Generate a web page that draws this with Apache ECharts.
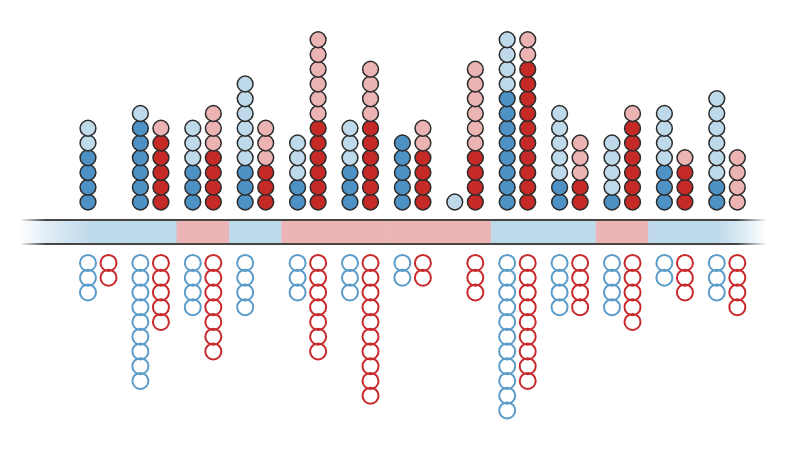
<!DOCTYPE html>
<html><head><meta charset="utf-8">
<script src="https://cdn.jsdelivr.net/npm/echarts@6/dist/echarts.min.js"></script>
<style>html,body{margin:0;padding:0;background:#fff}#c{width:800px;height:450px}</style>
</head><body><div id="c"></div>
<script>
// 13 groups, each with a blue stack and a red stack above the band and hollow stacks below
const groups = ['1','2','3','4','5','6','7','8','9','10','11','12','13'];
const blueStrong = [4,6,3,3,2,3,5,0,8,2,1,3,2];
const blueLean   = [2,1,3,6,3,3,0,1,4,5,4,4,6];
const redStrong  = [0,5,4,3,6,6,4,4,10,2,6,3,0];
const redLean    = [0,1,3,3,6,4,2,6,2,3,1,1,4];
const blueHollow = [3,9,4,4,3,3,2,0,11,4,4,2,3];
const redHollow  = [2,5,7,0,7,10,2,3,9,4,5,3,4];
const bandParty  = ['D','D','R','D','R','R','R','R','D','D','R','D','D'];

const C = {
  blueDark:'#4d91c5', blueLight:'#bdd9ea', redDark:'#c62a27', redLight:'#ecb3b3',
  bandBlue:'#bed9ea', bandRed:'#ecb5b5', hollowBlue:'#5b9bc9', hollowRed:'#c8292b', edge:'#2b2b2b'
};
const OFF = 0.196, UP0 = 2.034, DN0 = 2.10, BAND = 0.81;

function stackPoints(counts, startCounts, side, dir) {
  const pts = [];
  counts.forEach((n, g) => {
    const s = startCounts ? startCounts[g] : 0;
    for (let k = 0; k < n; k++) {
      const lvl = s + k;
      pts.push([g + side * OFF, dir > 0 ? UP0 + lvl : -(DN0 + lvl)]);
    }
  });
  return pts;
}

function filled(name, data, color) {
  return { type:'scatter', name, data, symbol:'circle', symbolSize:15.8, silent:true,
    itemStyle:{ color, borderColor:C.edge, borderWidth:1.5, opacity:1 }, z:5 };
}
function hollow(name, data, color) {
  return { type:'scatter', name, data, symbol:'circle', symbolSize:16, silent:true,
    itemStyle:{ color:'rgba(255,255,255,0)', borderColor:color, borderWidth:2, opacity:1 }, z:5 };
}

const chart = echarts.init(document.getElementById('c'), null, {renderer:'canvas'});
chart.setOption({
  animation:false,
  grid:{ left:19.65, right:33.65, top:25.5, bottom:11.5 },
  xAxis:{ type:'value', min:-1.5, max:12.75, show:false },
  yAxis:{ type:'value', min:-14, max:14, show:false },
  series:[
    { type:'custom', silent:true, z:1, clip:false,
      data: groups.map((g, i) => [i]),
      renderItem(params, api) {
        const g = api.value(0);
        const p0 = api.coord([g - 0.5, BAND]);
        const p1 = api.coord([g + 0.5, -BAND]);
        return { type:'rect',
          shape:{ x:p0[0] - 0.3, y:p0[1], width:p1[0] - p0[0] + 0.6, height:p1[1] - p0[1] },
          style:{ fill: bandParty[params.dataIndex] === 'D' ? C.bandBlue : C.bandRed } };
      }
    },
    { type:'custom', silent:true, z:2, clip:false,
      data:[[0]],
      renderItem(params, api) {
        const L0 = api.coord([-1.5, BAND]), L1 = api.coord([-0.12, -BAND]);
        const R0 = api.coord([11.8, BAND]), R1 = api.coord([12.75, -BAND]);
        const xa = api.coord([-1.5, 0])[0], xb = api.coord([12.75, 0])[0];
        const lineGrad = new echarts.graphic.LinearGradient(0,0,1,0,[
          {offset:0, color:'rgba(70,70,70,0)'}, {offset:0.035, color:'#454545'},
          {offset:0.96, color:'#454545'}, {offset:1, color:'rgba(70,70,70,0)'}]);
        return { type:'group', children:[
          { type:'rect', shape:{ x:L0[0], y:L0[1], width:L1[0]-L0[0], height:L1[1]-L0[1] },
            style:{ fill:new echarts.graphic.LinearGradient(0,0,1,0,[
              {offset:0,color:'#ffffff'},{offset:0.35,color:'#e3eef6'},{offset:1,color:C.bandBlue}]) } },
          { type:'rect', shape:{ x:R0[0], y:R0[1], width:R1[0]-R0[0], height:R1[1]-R0[1] },
            style:{ fill:new echarts.graphic.LinearGradient(0,0,1,0,[
              {offset:0,color:C.bandBlue},{offset:0.6,color:'#e0edf5'},{offset:1,color:'#ffffff'}]) } },
          { type:'rect', shape:{ x:xa, y:L0[1]-1, width:xb-xa, height:2 }, style:{ fill:lineGrad } },
          { type:'rect', shape:{ x:xa, y:L1[1]-1, width:xb-xa, height:2 }, style:{ fill:lineGrad } }
        ]};
      }
    },
    filled('blueStrong', stackPoints(blueStrong, null, -1, 1), C.blueDark),
    filled('blueLean', stackPoints(blueLean, blueStrong, -1, 1), C.blueLight),
    filled('redStrong', stackPoints(redStrong, null, 1, 1), C.redDark),
    filled('redLean', stackPoints(redLean, redStrong, 1, 1), C.redLight),
    hollow('blueHollow', stackPoints(blueHollow, null, -1, -1), C.hollowBlue),
    hollow('redHollow', stackPoints(redHollow, null, 1, -1), C.hollowRed)
  ]
});
</script>
</body></html>
